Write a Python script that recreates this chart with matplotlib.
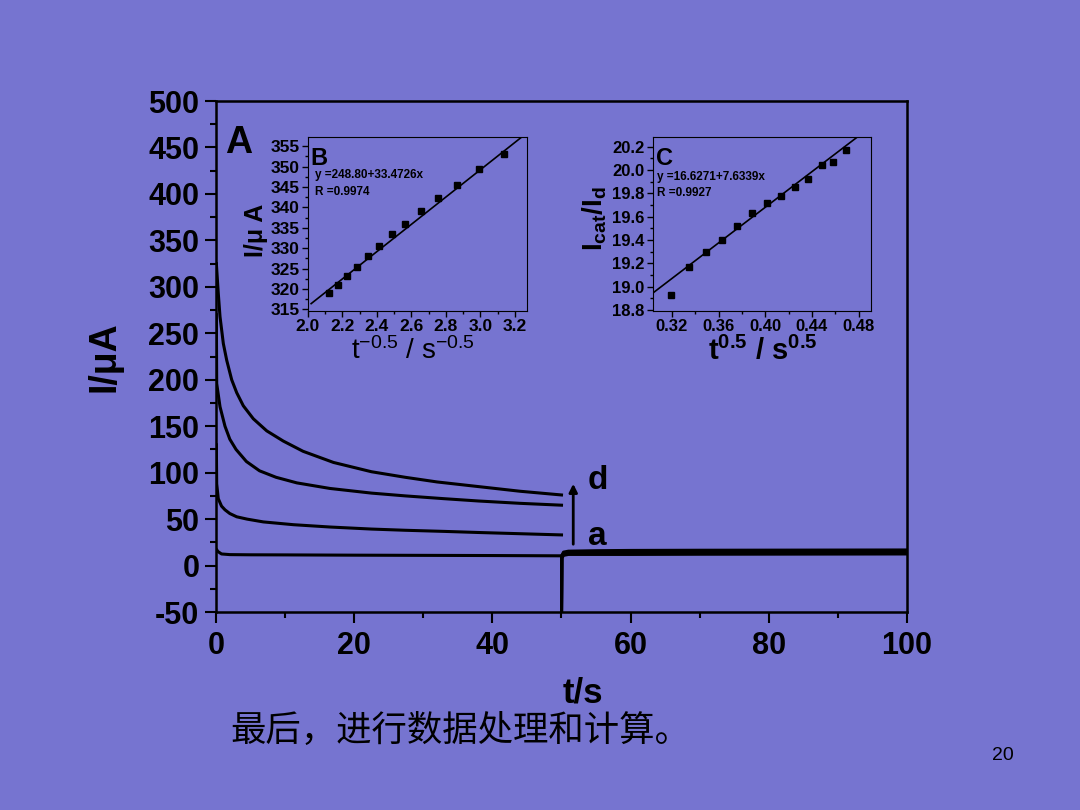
import matplotlib
matplotlib.use('Agg')
import matplotlib.pyplot as plt
from matplotlib.ticker import MultipleLocator

plt.rcParams['font.family'] = ['Liberation Sans', 'Noto Sans CJK SC', 'DejaVu Sans']
plt.rcParams['mathtext.fontset'] = 'custom'
plt.rcParams['mathtext.rm'] = 'Liberation Sans'
plt.rcParams['mathtext.it'] = 'Liberation Sans'
plt.rcParams['mathtext.bf'] = 'Liberation Sans:bold'
plt.rcParams['axes.unicode_minus'] = False

bg = '#7674D0'

# main chronoamperograms (t in s, I in uA)
t_a = [0, 0.3, 0.8, 2, 5, 10, 20, 30, 40, 50]
i_a = [18, 15, 12.5, 11.8, 11.6, 11.5, 11.2, 11, 10.8, 10.5]
t_b = [0.05, 0.1, 0.33, 0.8, 1.3, 2.0, 3.0, 4.5, 6.85, 11.2, 16.5, 22.5, 27.4, 33, 38, 44, 50]
i_b = [130, 88, 72, 64, 60, 56, 52.5, 50, 47, 44, 41.5, 39.3, 38, 36.8, 35.6, 34.3, 33]
t_c = [0.05, 0.1, 0.58, 1.3, 2.0, 2.9, 4.4, 6.3, 8.7, 11.7, 16.5, 22.5, 27.4, 33, 38, 44, 50]
i_c = [270, 196, 171, 150, 136, 125, 112, 102, 95, 89, 83, 78, 75, 72, 69.5, 67, 65]
t_d = [0.05, 0.33, 0.58, 1.06, 1.55, 2.27, 3.0, 3.95, 5.4, 7.34, 9.74, 12.6, 17, 22.5, 27.4, 32, 38, 44, 50]
i_d = [325, 293, 268, 239, 221, 200, 186, 172, 158, 145, 134, 123, 111, 101, 95, 90, 85, 80, 76]

# second step, after t = 50 s
t_step = [50.0, 50.05, 50.3, 51, 55, 60, 70, 80, 90, 100]
i_step_a = [-60, 8, 11, 12, 12, 12, 12.2, 12.3, 12.4, 12.5]
i_step_b = [-60, 9, 12.5, 13.5, 14, 14.3, 14.5, 14.6, 14.7, 14.8]
i_step_c = [-60, 10, 13.5, 14.5, 15, 15.3, 15.5, 15.7, 15.8, 16]
i_step_d = [-60, 11, 14.5, 15.5, 16, 16.3, 16.5, 16.6, 16.7, 16.8]

# inset B: I vs t^-0.5
xb = [2.126, 2.176, 2.230, 2.288, 2.350, 2.412, 2.489, 2.566, 2.657, 2.754, 2.866, 2.989, 3.136]
yb = [319.1, 321.0, 323.2, 325.5, 328.0, 330.5, 333.4, 336.0, 339.2, 342.2, 345.5, 349.3, 353.0]
fit_b = (248.80, 33.4726)
# inset C: Icat/Id vs t^0.5
xc = [0.3191, 0.3349, 0.3489, 0.3631, 0.3760, 0.3886, 0.4017, 0.4134, 0.4251, 0.4363, 0.4483, 0.4580, 0.4689]
yc = [18.931, 19.166, 19.297, 19.400, 19.523, 19.634, 19.717, 19.777, 19.854, 19.926, 20.046, 20.066, 20.169]
fit_c = (16.6271, 7.6339)

fig = plt.figure(figsize=(10.8, 8.1), dpi=100)
fig.patch.set_facecolor(bg)

ax = fig.add_axes([0.2, 0.2444, 0.6398, 0.6309])
ax.set_facecolor(bg)
for t, i in [(t_a, i_a), (t_b, i_b), (t_c, i_c), (t_d, i_d)]:
    ax.plot(t, i, color='black', lw=2.2, solid_joinstyle='round')
for i in [i_step_a, i_step_b, i_step_c, i_step_d]:
    ax.plot(t_step, i, color='black', lw=2.2, solid_joinstyle='round')
ax.set_xlim(0, 100)
ax.set_ylim(-50, 500)
ax.xaxis.set_major_locator(MultipleLocator(20))
ax.xaxis.set_minor_locator(MultipleLocator(10))
ax.yaxis.set_major_locator(MultipleLocator(50))
ax.yaxis.set_minor_locator(MultipleLocator(25))
ax.tick_params(which='major', length=8, width=1.5, labelsize=22)
ax.tick_params(which='minor', length=4, width=1.5)
ax.tick_params(axis='y', pad=4)
ax.tick_params(axis='x', pad=6)
for lab in ax.get_xticklabels() + ax.get_yticklabels():
    lab.set_fontweight('bold')
for s in ax.spines.values():
    s.set_linewidth(1.8)
ax.set_xlabel('t/s', fontsize=25, fontweight='bold')
ax.xaxis.set_label_coords(0.531, -0.127)
ax.set_ylabel('I/μA', fontsize=27, fontweight='bold')
ax.yaxis.set_label_coords(-0.136, 0.5)

ax.annotate('', xy=(51.7, 91), xytext=(51.7, 20),
            arrowprops=dict(arrowstyle='-|>', color='black', lw=2, mutation_scale=12))
ax.text(53.8, 92, 'd', fontsize=24, fontweight='bold', va='center')
ax.text(53.8, 31, 'a', fontsize=24, fontweight='bold', va='center')
ax.text(1.3, 474, 'A', fontsize=27, fontweight='bold', va='top')

# inset B
axb = fig.add_axes([0.2849, 0.616, 0.2031, 0.2152])
axb.set_facecolor(bg)
axb.plot(xb, yb, 's', color='black', ms=4)
axb.plot([2.02, 3.3], [fit_b[0] + fit_b[1] * 2.02, fit_b[0] + fit_b[1] * 3.3], color='black', lw=1.2)
axb.set_xlim(2.0, 3.27)
axb.set_ylim(314.6, 357.3)
axb.xaxis.set_major_locator(MultipleLocator(0.2))
axb.xaxis.set_minor_locator(MultipleLocator(0.1))
axb.yaxis.set_major_locator(MultipleLocator(5))
axb.yaxis.set_minor_locator(MultipleLocator(2.5))
axb.tick_params(which='major', length=4, width=1, labelsize=12.5, pad=2)
axb.tick_params(which='minor', length=2, width=1)
for lab in axb.get_xticklabels() + axb.get_yticklabels():
    lab.set_fontweight('bold')
axb.set_xlabel(r'$\mathregular{t^{-0.5}\ /\ s^{-0.5}}$', fontsize=20)
axb.xaxis.set_label_coords(0.48, -0.15)
axb.set_ylabel('I/μ A', fontsize=18, fontweight='bold')
axb.yaxis.set_label_coords(-0.181, 0.46)
axb.text(0.012, 0.94, 'B', transform=axb.transAxes, fontsize=17, fontweight='bold', va='top')
axb.text(0.035, 0.78, 'y =248.80+33.4726x', transform=axb.transAxes, fontsize=8.5, fontweight='bold', va='center')
axb.text(0.035, 0.683, 'R =0.9974', transform=axb.transAxes, fontsize=8.5, fontweight='bold', va='center')

# inset C
axc = fig.add_axes([0.6043, 0.616, 0.2021, 0.2152])
axc.set_facecolor(bg)
axc.plot(xc, yc, 's', color='black', ms=4)
axc.plot([0.3, 0.49], [fit_c[0] + fit_c[1] * 0.3, fit_c[0] + fit_c[1] * 0.49], color='black', lw=1.2)
axc.set_xlim(0.3034, 0.4906)
axc.set_ylim(18.79, 20.286)
axc.xaxis.set_major_locator(MultipleLocator(0.04))
axc.xaxis.set_minor_locator(MultipleLocator(0.02))
axc.yaxis.set_major_locator(MultipleLocator(0.2))
axc.yaxis.set_minor_locator(MultipleLocator(0.1))
axc.xaxis.set_major_formatter(plt.FormatStrFormatter('%.2f'))
axc.yaxis.set_major_formatter(plt.FormatStrFormatter('%.1f'))
axc.tick_params(which='major', length=4, width=1, labelsize=12, pad=2)
axc.tick_params(which='minor', length=2, width=1)
for lab in axc.get_xticklabels() + axc.get_yticklabels():
    lab.set_fontweight('bold')
axc.set_xlabel(r'$\mathbf{t^{0.5}\ /\ s^{0.5}}$', fontsize=21)
axc.xaxis.set_label_coords(0.505, -0.145)
axc.set_ylabel(r'$\mathbf{I_{cat}/I_d}$', fontsize=20)
axc.yaxis.set_label_coords(-0.2, 0.53)
axc.text(0.015, 0.94, 'C', transform=axc.transAxes, fontsize=17, fontweight='bold', va='top')
axc.text(0.02, 0.77, 'y =16.6271+7.6339x', transform=axc.transAxes, fontsize=8.5, fontweight='bold', va='center')
axc.text(0.02, 0.677, 'R =0.9927', transform=axc.transAxes, fontsize=8.5, fontweight='bold', va='center')

fig.text(230 / 1080, 1 - 731 / 810, '最后，进行数据处理和计算。', fontsize=25.5, fontweight='light',
         family=['Noto Sans CJK SC', 'DejaVu Sans'], va='center', ha='left')
fig.text(1003 / 1080, 1 - 755 / 810, '20', fontsize=14, ha='center', va='center')

fig.savefig('out.png', dpi=100, facecolor=bg)
